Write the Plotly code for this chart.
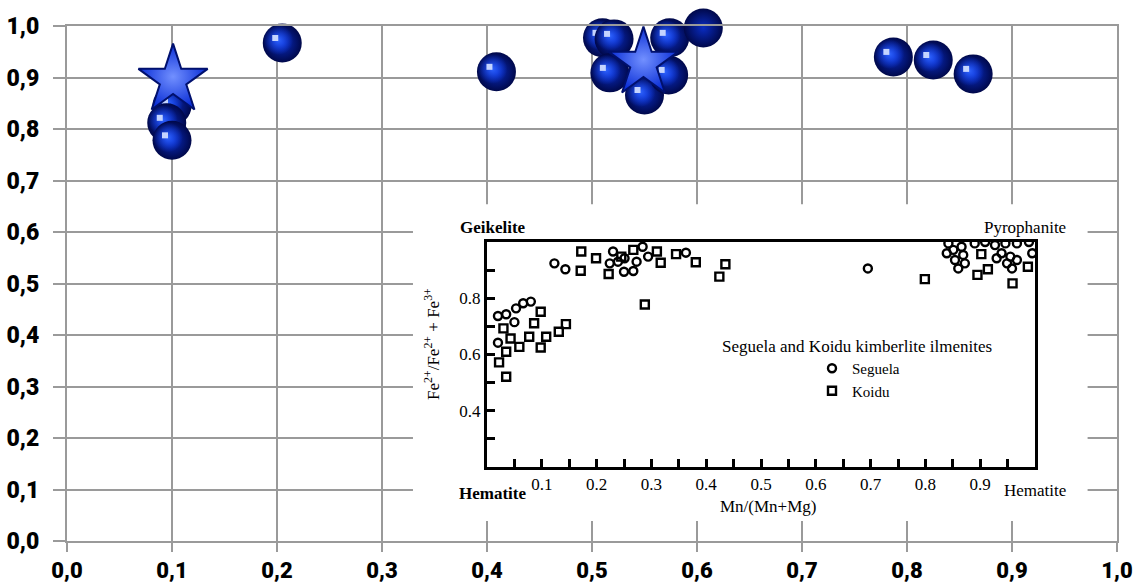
import plotly.graph_objects as go

# ---------------- data ----------------
# main chart: blue spheres and stars
sphere_x = [0.100, 0.095, 0.100, 0.205, 0.409, 0.510, 0.521, 0.517, 0.550,
            0.573, 0.574, 0.606, 0.787, 0.825, 0.863]
sphere_y = [0.845, 0.812, 0.778, 0.967, 0.911, 0.977, 0.975, 0.909, 0.866,
            0.905, 0.977, 0.996, 0.940, 0.934, 0.907]
star_x = [0.101, 0.549]
star_y = [0.895, 0.928]

main_tickvals = [0.0, 0.1, 0.2, 0.3, 0.4, 0.5, 0.6, 0.7, 0.8, 0.9, 1.0]
main_ticktext = ["0,0", "0,1", "0,2", "0,3", "0,4", "0,5", "0,6", "0,7", "0,8", "0,9", "1,0"]

# inset: Seguela (circles) and Koidu (squares) kimberlite ilmenites
seg_x = [0.020, 0.035, 0.020, 0.050, 0.053, 0.066, 0.080, 0.123, 0.143, 0.230,
         0.224, 0.239, 0.251, 0.250, 0.267, 0.273, 0.284, 0.294, 0.363, 0.695,
         0.842, 0.839, 0.851, 0.854, 0.860, 0.866, 0.869, 0.872, 0.890, 0.909,
         0.927, 0.930, 0.939, 0.946, 0.949, 0.955, 0.958, 0.967, 0.967, 0.989,
         0.995]
seg_y = [0.737, 0.743, 0.642, 0.715, 0.764, 0.782, 0.788, 0.924, 0.903, 0.966,
         0.924, 0.930, 0.942, 0.894, 0.897, 0.930, 0.983, 0.948, 0.962, 0.906,
         0.995, 0.960, 0.972, 0.936, 0.906, 0.983, 0.954, 0.924, 0.995, 1.000,
         0.989, 0.942, 0.960, 0.995, 0.924, 0.948, 0.906, 0.995, 0.936, 1.000,
         0.960]
kod_x = [0.022, 0.035, 0.035, 0.030, 0.043, 0.059, 0.077, 0.086, 0.098, 0.098,
         0.108, 0.131, 0.144, 0.171, 0.172, 0.199, 0.222, 0.245, 0.267, 0.288,
         0.310, 0.317, 0.345, 0.381, 0.424, 0.435, 0.799, 0.895, 0.902, 0.914,
         0.959, 0.987]
kod_y = [0.572, 0.521, 0.610, 0.693, 0.657, 0.627, 0.663, 0.711, 0.752, 0.625,
         0.663, 0.681, 0.708, 0.898, 0.966, 0.942, 0.886, 0.948, 0.972, 0.778,
         0.966, 0.926, 0.957, 0.928, 0.877, 0.921, 0.868, 0.883, 0.957, 0.903,
         0.853, 0.912]

inset_xtickvals = [0.1, 0.2, 0.3, 0.4, 0.5, 0.6, 0.7, 0.8, 0.9]
inset_xticktext = ["0.1", "0.2", "0.3", "0.4", "0.5", "0.6", "0.7", "0.8", "0.9"]
inset_ytickvals = [0.4, 0.6, 0.8]
inset_yticktext = ["0.4", "0.6", "0.8"]

# ---------------- layout constants ----------------
W, H = 1138, 587
ML, MR, MT, MB = 67, 21, 26, 46
PW = W - ML - MR
PH = H - MT - MB

SERIF = "Liberation Serif, Times New Roman, serif"
HEAVY = "Roboto, Liberation Sans, sans-serif"

fig = go.Figure()

# spheres: dark base, bright offset glow, small highlight (per sphere for occlusion)
for x, y in zip(sphere_x, sphere_y):
    fig.add_trace(go.Scatter(
        x=[x], y=[y], mode="markers", cliponaxis=False, hoverinfo="skip",
        showlegend=False,
        marker=dict(size=39, symbol="circle", color="#00084a",
                    gradient=dict(type="radial", color="#0a2cc0"),
                    line=dict(width=0))))
    fig.add_trace(go.Scatter(
        x=[x - 4 / PW], y=[y + 3 / PH], mode="markers", cliponaxis=False,
        hoverinfo="skip", showlegend=False,
        marker=dict(size=30, symbol="circle", color="rgba(20,70,255,0)",
                    gradient=dict(type="radial", color="#2f64ff"),
                    line=dict(width=0))))
    fig.add_trace(go.Scatter(
        x=[x - 7 / PW], y=[y + 5 / PH], mode="markers", cliponaxis=False,
        hoverinfo="skip", showlegend=False,
        marker=dict(size=6, symbol="square", color="#c4d4ff",
                    line=dict(width=0))))

# stars
fig.add_trace(go.Scatter(
    x=star_x, y=star_y, mode="markers", cliponaxis=False, hoverinfo="skip",
    showlegend=False,
    marker=dict(size=52, symbol="star", color="#0a2ed6",
                gradient=dict(type="radial", color="#7290ff"),
                line=dict(width=2, color="#00106e"))))

# inset traces
fig.add_trace(go.Scatter(
    x=seg_x, y=seg_y, xaxis="x2", yaxis="y2", mode="markers", name="Seguela",
    marker=dict(symbol="circle-open", size=8, color="black",
                line=dict(width=2.4, color="black"))))
fig.add_trace(go.Scatter(
    x=kod_x, y=kod_y, xaxis="x2", yaxis="y2", mode="markers", name="Koidu",
    marker=dict(symbol="square-open", size=8, color="black",
                line=dict(width=2.4, color="black"))))

# white panel behind the inset (covers main grid)
fig.add_shape(type="rect", xref="x", yref="y", x0=0.3295, x1=0.972,
              y0=0.039, y1=0.654, fillcolor="white", line=dict(width=0),
              layer="between")


def px(xp):
    return (xp - ML) / PW


def py(yp):
    return (H - MB - yp) / PH


annotations = [
    dict(text="<b>Geikelite</b>", x=px(493), y=py(227)),
    dict(text="<b>Hematite</b>", x=px(492), y=py(493)),
    dict(text="Pyrophanite", x=px(1025), y=py(227)),
    dict(text="Hematite", x=px(1035), y=py(490)),
    dict(text="Mn/(Mn+Mg)", x=px(768), y=py(506)),
    dict(text="Seguela and Koidu kimberlite ilmenites", x=px(857), y=py(346)),
]
ann_list = []
for a in annotations:
    ann_list.append(dict(text=a["text"], x=a["x"], y=a["y"], xref="paper",
                         yref="paper", showarrow=False, xanchor="center",
                         yanchor="middle",
                         font=dict(family=SERIF, size=17, color="black")))
ann_list.append(dict(text="Fe<sup>2+</sup>/Fe<sup>2+</sup> + Fe<sup>3+</sup>",
                     x=px(432), y=py(344), xref="paper", yref="paper",
                     showarrow=False, textangle=-90, xanchor="center",
                     yanchor="middle",
                     font=dict(family=SERIF, size=17, color="black")))

main_axis = dict(
    range=[0, 1], tickvals=main_tickvals, ticktext=main_ticktext,
    showgrid=True, gridcolor="#9a9a9a", gridwidth=2, zeroline=False,
    showline=True, mirror=True, linecolor="#9a9a9a", linewidth=2,
    ticks="outside", ticklen=12, tickwidth=2, tickcolor="#9a9a9a",
    automargin=False,
    tickfont=dict(family=HEAVY, size=23, color="black", weight=900),
)

inset_font = dict(family=SERIF, size=17, color="black")
inset_common = dict(
    showgrid=False, zeroline=False, showline=True, mirror=True,
    linecolor="black", linewidth=3, ticks="inside", ticklen=8,
    tickwidth=2.5, tickcolor="black", tickfont=inset_font, automargin=False,
)

fig.update_layout(
    width=W, height=H,
    margin=dict(l=ML, r=MR, t=MT, b=MB, autoexpand=False),
    paper_bgcolor="white", plot_bgcolor="white",
    xaxis=dict(main_axis, ticklabelstandoff=0, ticklen=9,
               tickfont=dict(family=HEAVY, size=22, color="black", weight=900)),
    yaxis=dict(main_axis, ticklabelstandoff=9),
    xaxis2=dict(inset_common, domain=[0.400, 0.9219], anchor="y2", range=[0, 1],
                tickvals=inset_xtickvals, ticktext=inset_xticktext,
                ticklabelstandoff=0,
                minor=dict(ticks="inside", ticklen=8, tickwidth=2.5,
                           tickcolor="black", tick0=0, dtick=0.05,
                           showgrid=False)),
    yaxis2=dict(inset_common, domain=[0.1437, 0.5806], anchor="x2",
                range=[0.2, 1.0],
                tickvals=inset_ytickvals, ticktext=inset_yticktext,
                minor=dict(ticks="inside", ticklen=8, tickwidth=2.5,
                           tickcolor="black", tick0=0.2, dtick=0.1,
                           showgrid=False)),
    showlegend=True,
    legend=dict(x=px(812), y=py(352), xanchor="left", yanchor="top",
                bgcolor="rgba(0,0,0,0)",
                font=dict(family=SERIF, size=15, color="black"),
                tracegroupgap=0, itemwidth=30),
    annotations=ann_list,
)

fig.write_html("out.html")
